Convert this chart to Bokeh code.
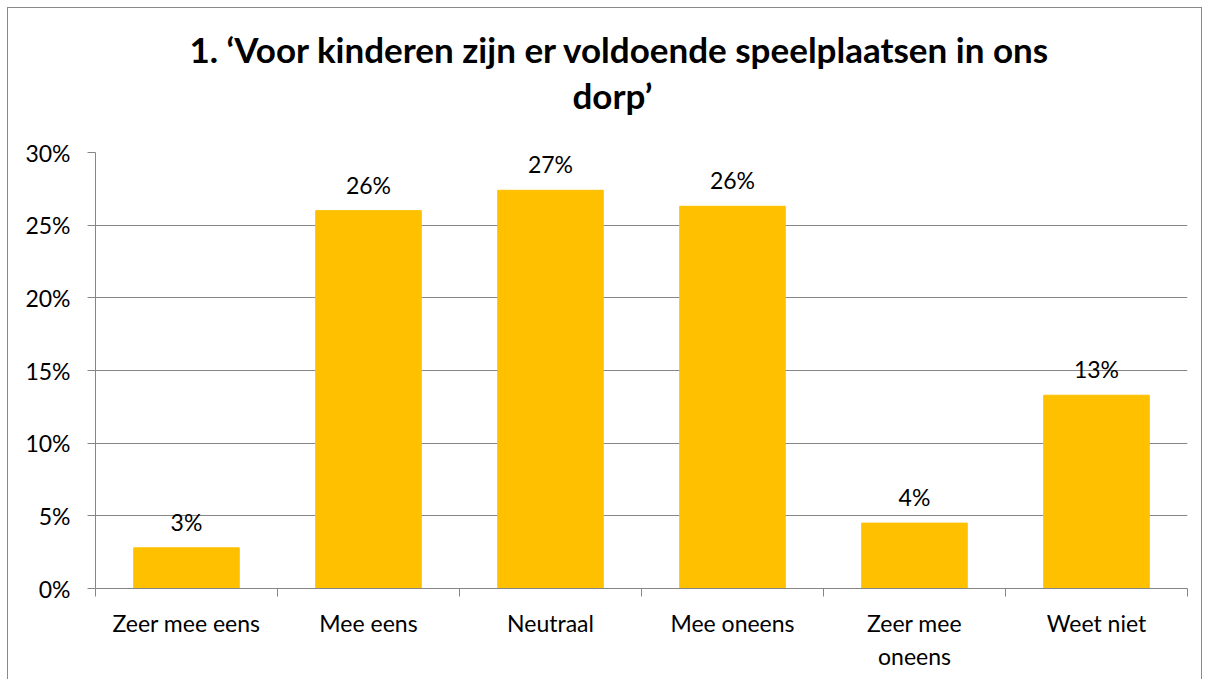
from bokeh.plotting import figure
from bokeh.models import ColumnDataSource, LabelSet, FixedTicker, NumeralTickFormatter, Range1d, Title
from bokeh.core.properties import value
from bokeh.embed import file_html
from bokeh.resources import INLINE

categories = ["Zeer mee eens", "Mee eens", "Neutraal", "Mee oneens", "Zeer mee\noneens", "Weet niet"]
values = [0.028, 0.260, 0.274, 0.263, 0.045, 0.133]
value_labels = ["3%", "26%", "27%", "26%", "4%", "13%"]
y_ticks = [0, 0.05, 0.10, 0.15, 0.20, 0.25, 0.30]
title_lines = ["1. \u2018Voor kinderen zijn er voldoende speelplaatsen in ons", "dorp\u2019"]

FONT = "Lato"
GRAY = "#868686"

x = [i + 0.5 for i in range(len(categories))]
src = ColumnDataSource(dict(x=x, top=values, label=value_labels))

p = figure(width=1195, height=672, x_range=Range1d(0, len(categories)), y_range=Range1d(0, 0.30),
           output_backend="svg", toolbar_location=None, title=None,
           min_border_left=87, min_border_right=16, min_border_top=144, min_border_bottom=92)
p.styles = {"border-left": "1px solid #898989", "border-top": "1px solid #898989",
            "border-right": "1px solid #898989", "margin-left": "7px", "margin-top": "7px"}

def add_title(text, standoff, offset):
    t = Title(text=text, align="left", offset=offset, text_font=FONT, text_font_size="35px",
              text_font_style="bold", text_color="black", standoff=standoff)
    p.add_layout(t, "above")

add_title(title_lines[1], 73, 477)
add_title(title_lines[0], -69, 94)

p.vbar(x="x", top="top", width=0.58, color="#FFC000", source=src)

labels = LabelSet(x="x", y="top", text="label", source=src, text_align="center",
                  text_baseline="alphabetic", y_offset=17, text_font=value(FONT),
                  text_font_size=value("23px"), text_color="black")
p.add_layout(labels)

p.outline_line_color = None
p.xgrid.grid_line_color = None
p.ygrid.grid_line_color = GRAY
p.ygrid.grid_line_width = 1

xa = p.xaxis[0]
xa.ticker = FixedTicker(ticks=x, minor_ticks=list(range(len(categories) + 1)))
xa.major_label_overrides = {xi: c for xi, c in zip(x, categories)}
xa.major_tick_line_color = None
xa.minor_tick_line_color = GRAY
xa.minor_tick_in = 0
xa.minor_tick_out = 8
xa.axis_line_color = GRAY
xa.major_label_text_font = FONT
xa.major_label_text_font_size = "23px"
xa.major_label_text_color = "black"
xa.major_label_standoff = 12

ya = p.yaxis[0]
ya.ticker = FixedTicker(ticks=y_ticks)
ya.formatter = NumeralTickFormatter(format="0%")
ya.major_tick_in = 0
ya.major_tick_out = 8
ya.major_tick_line_color = GRAY
ya.minor_tick_line_color = None
ya.axis_line_color = GRAY
ya.major_label_text_font = FONT
ya.major_label_text_font_size = "23px"
ya.major_label_text_color = "black"
ya.major_label_standoff = 17

open("out.html", "w").write(file_html(p, INLINE))
